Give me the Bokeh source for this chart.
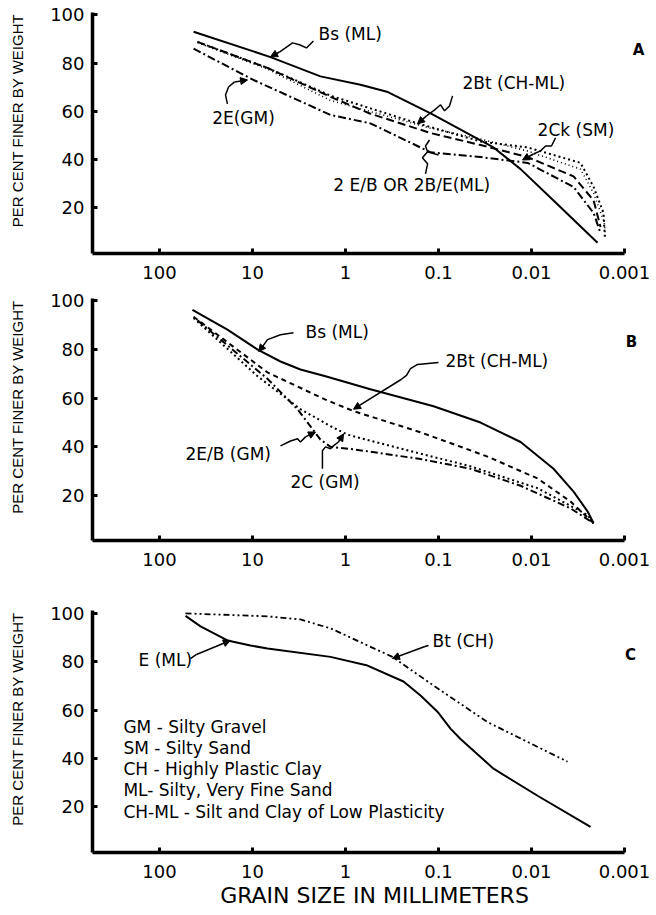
from bokeh.plotting import figure
from bokeh.layouts import column
from bokeh.models import Range1d, FixedTicker, CustomJSTickFormatter, Label, Arrow, NormalHead
from bokeh.embed import file_html
from bokeh.resources import INLINE

# ---------------- data ----------------
X_TICKS = [100, 10, 1, 0.1, 0.01, 0.001]
Y_TICKS = [20, 40, 60, 80, 100]

# Panel A
A_bs_size = [43, 6.4, 1.86, 0.69, 0.35, 0.12, 0.042, 0.0256, 0.0131, 0.0058, 0.00195]
A_bs_pct = [93, 82.5, 74.5, 71, 68, 59, 49.5, 45, 36, 23, 5.5]
A_2bt_size = [39, 6.9, 1.45, 0.168, 0.0353, 0.011, 0.00297, 0.00215, 0.00168, 0.00163]
A_2bt_pct = [88.8, 78, 66.5, 55, 47.5, 45, 38.6, 28.6, 17.8, 8]
A_eb_size = [39, 6.9, 1.45, 0.54, 0.122, 0.0353, 0.011, 0.00353, 0.00215, 0.00181]
A_eb_pct = [88.8, 78, 66, 59, 51, 46, 41, 33, 23, 12]
A_2e_size = [43, 9.75, 1.45, 0.54, 0.122, 0.0353, 0.011, 0.00353, 0.00215, 0.00181]
A_2e_pct = [86, 73, 58.5, 55, 43, 41, 38.6, 28.6, 17.8, 9.5]
A_2ck_size = [39, 6.9, 1.45, 0.122, 0.0353, 0.011, 0.00297, 0.00215, 0.00165, 0.0016]
A_2ck_pct = [88.5, 77.5, 64.5, 53, 48.5, 43.5, 36, 26, 14, 7]

# Panel B
B_bs_size = [44.2, 18.6, 8.8, 5.0, 3.05, 1.64, 0.54, 0.113, 0.0353, 0.0131, 0.0058, 0.00353, 0.0025, 0.00215]
B_bs_pct = [96.3, 88.2, 80, 75.1, 71.8, 69, 63.7, 56.7, 50, 42, 31, 21.6, 13.5, 8.6]
B_2bt_size = [43, 6.9, 1.64, 0.82, 0.156, 0.0297, 0.0086, 0.0038, 0.00215]
B_2bt_pct = [93.5, 70.6, 59.4, 54.7, 46, 36, 27, 17.5, 8.6]
B_2c_size = [43, 8.8, 3.05, 1.45, 0.95, 0.238, 0.0453, 0.0086, 0.0025, 0.00215]
B_2c_pct = [93, 69, 55.5, 48.5, 45, 39, 32, 23, 12, 8.6]
B_2eb_size = [39, 6.9, 3.28, 1.86, 1.45, 0.82, 0.156, 0.0453, 0.0131, 0.0038, 0.00215]
B_2eb_pct = [92, 68, 55.5, 43, 40, 39, 35, 31, 24, 14.7, 8.6]

# Panel C
C_e_size = [52.5, 36.2, 18.6, 10.5, 6.9, 1.45, 0.58, 0.238, 0.156, 0.1026, 0.0743, 0.058, 0.0256, 0.0086, 0.00232]
C_e_pct = [99, 94.6, 88.8, 86.7, 85.5, 82, 78.4, 71.8, 66, 59.3, 52.3, 48, 35.7, 24.5, 11.6]
C_bt_size = [52.5, 6.9, 3.05, 1.45, 0.313, 0.1026, 0.0297, 0.0041]
C_bt_pct = [100, 98.8, 97.5, 93.8, 82, 69, 55, 38.6]

LEGEND_LINES = ["GM - Silty Gravel", "SM - Silty Sand", "CH - Highly Plastic Clay",
                "ML- Silty, Very Fine Sand", "CH-ML - Silt and Clay of Low Plasticity"]

Y_TITLE = "PER CENT FINER BY WEIGHT"
X_TITLE = "GRAIN SIZE IN MILLIMETERS"

FONT = "DejaVu Sans"
# non-breaking spaces before the title shift the visible text up along the axis
Y_PAD = "\u00a0" * 6


def make_fig(y0, y1, frame_h, top, bottom):
    f = figure(x_axis_type="log", x_range=Range1d(525, 0.000453), y_range=Range1d(y0, y1),
               frame_width=564, frame_height=frame_h,
               min_border_left=92, min_border_right=0, min_border_top=top,
               min_border_bottom=bottom,
               output_backend="svg", toolbar_location=None)
    f.grid.visible = False
    f.outline_line_color = None
    f.xaxis.ticker = FixedTicker(ticks=X_TICKS)
    f.xaxis.formatter = CustomJSTickFormatter(code="return String(tick);")
    f.xaxis.bounds = (0.001, 525)
    f.yaxis.ticker = FixedTicker(ticks=Y_TICKS)
    for ax in (f.xaxis[0], f.yaxis[0]):
        ax.axis_line_width = 3.5
        ax.axis_line_color = "black"
        ax.major_tick_in = 5
        ax.major_tick_out = 0
        ax.major_tick_line_width = 3
        ax.major_tick_line_color = "black"
        ax.minor_tick_line_color = None
        ax.major_label_text_font = FONT
        ax.major_label_text_font_size = "18px"
        ax.major_label_text_color = "black"
    f.xaxis.major_label_standoff = 12
    f.yaxis.major_label_standoff = 8
    f.yaxis.axis_label = Y_PAD + Y_TITLE
    f.yaxis.axis_label_standoff = 21
    f.yaxis.axis_label_text_font = "Liberation Sans"
    f.yaxis.axis_label_text_font_size = "15px"
    f.yaxis.axis_label_text_font_style = "normal"
    f.yaxis.axis_label_text_color = "black"
    return f


def txt(f, x, y, s, align="left", size="17px", bold=False):
    f.add_layout(Label(x=x, y=y, text=s, text_align=align, text_baseline="middle",
                       text_font=FONT, text_font_size=size, text_color="black",
                       text_font_style="bold" if bold else "normal"))


def lead(f, xs, ys, tip=None):
    f.line(xs, ys, line_color="black", line_width=1.5)
    if tip is not None:
        f.add_layout(Arrow(end=NormalHead(size=7, fill_color="black", line_color="black", line_width=1),
                           x_start=xs[-1], y_start=ys[-1], x_end=tip[0], y_end=tip[1],
                           line_color="black", line_width=1.5))


# ---------------- panel A ----------------
pA = make_fig(1, 101, 241, 12, 36)
pA.line(A_bs_size, A_bs_pct, line_color="black", line_width=2)
pA.line(A_2bt_size, A_2bt_pct, line_color="black", line_width=2, line_dash="2 3")
pA.line(A_eb_size, A_eb_pct, line_color="black", line_width=2, line_dash="8 4")
pA.line(A_2e_size, A_2e_pct, line_color="black", line_width=2, line_dash="8 3 2 3")
pA.line(A_2ck_size, A_2ck_pct, line_color="black", line_width=1.6, line_dash="1 3")

txt(pA, 1.95, 92, "Bs (ML)")
lead(pA, [2.21, 2.63, 3.12, 3.71, 4.42, 5.13], [89.2, 86.3, 87.6, 88.4, 86.3, 84.6], (6.4, 82.6))
txt(pA, 12.5, 57.3, "2E(GM)", align="center")
lead(pA, [18.6, 19.5, 18.1, 15.6], [63.1, 66.8, 70.1, 72.2], (11.3, 73.0))
txt(pA, 0.0552, 71.8, "2Bt (CH-ML)")
lead(pA, [0.0706, 0.0762, 0.0861, 0.095, 0.110, 0.1346], [66.4, 62.2, 60.2, 62.7, 60.6, 58.1], (0.168, 54.8))
txt(pA, 0.0086, 52.3, "2Ck (SM)")
lead(pA, [0.00552, 0.0061, 0.00706, 0.0080, 0.0095], [49.0, 45.6, 45.6, 43.6, 42.3], (0.0125, 39.8))
txt(pA, 1.35, 29.5, "2 E/B OR 2B/E(ML)")
lead(pA, [0.138, 0.131, 0.149, 0.131, 0.138, 0.125], [34.0, 38.2, 40.7, 43.2, 45.6, 48.1])
lead(pA, [0.131, 0.1], [43.2, 41.9])
txt(pA, 0.000706, 85.5, "A", align="center", size="15px", bold=True)

# ---------------- panel B ----------------
pB = make_fig(1.5, 101, 242, 9, 61)
pB.line(B_bs_size, B_bs_pct, line_color="black", line_width=2)
pB.line(B_2bt_size, B_2bt_pct, line_color="black", line_width=2, line_dash="5 4")
pB.line(B_2c_size, B_2c_pct, line_color="black", line_width=2, line_dash="2 3")
pB.line(B_2eb_size, B_2eb_pct, line_color="black", line_width=2, line_dash="7 3 2 3")

txt(pB, 2.69, 87.3, "Bs (ML)")
lead(pB, [3.62, 5.0, 6.9, 7.8], [86.9, 86.1, 84.1, 81.2], (8.6, 79.2))
txt(pB, 0.0841, 75.1, "2Bt (CH-ML)")
lead(pB, [0.1, 0.168, 0.2, 0.221, 0.25], [74.7, 73.9, 72.2, 69.4, 67.8], (0.82, 55.5))
txt(pB, 52.5, 37.1, "2E/B (GM)")
lead(pB, [5.0, 3.9, 3.28, 3.05, 2.69], [40.4, 42.4, 43.3, 42.0, 44.1], (2.1, 46.1))
txt(pB, 3.9, 25.7, "2C (GM)")
lead(pB, [1.77, 1.77, 1.64, 1.45, 1.35, 1.19], [31.0, 38.4, 40.0, 39.2, 40.4, 42.0], (1.05, 45.3))
txt(pB, 0.00084, 83.3, "B", align="center", size="15px", bold=True)

# ---------------- panel C ----------------
pC = make_fig(1, 101.2, 242, 9, 61)
pC.line(C_e_size, C_e_pct, line_color="black", line_width=2)
pC.line(C_bt_size, C_bt_pct, line_color="black", line_width=1.8, line_dash="6 3 2 3 2 3")

txt(pC, 168, 80.5, "E (ML)")
lead(pC, [46.4, 40], [81.3, 83.0], (17.3, 88.8))
txt(pC, 0.116, 88.4, "Bt (CH)")
lead(pC, [0.128, 0.14], [86.7, 86.3], (0.313, 81.3))
txt(pC, 0.00086, 82.6, "C", align="center", size="15px", bold=True)
for i, s in enumerate(LEGEND_LINES):
    txt(pC, 244, 53.1 - 8.8 * i, s)

pC.xaxis.axis_label = X_TITLE
pC.xaxis.axis_label_standoff = 2
pC.xaxis.axis_label_text_font = FONT
pC.xaxis.axis_label_text_font_size = "22px"
pC.xaxis.axis_label_text_font_style = "normal"
pC.xaxis.axis_label_text_color = "black"

layout = column(pA, pB, pC)
open("out.html", "w").write(file_html(layout, INLINE))
